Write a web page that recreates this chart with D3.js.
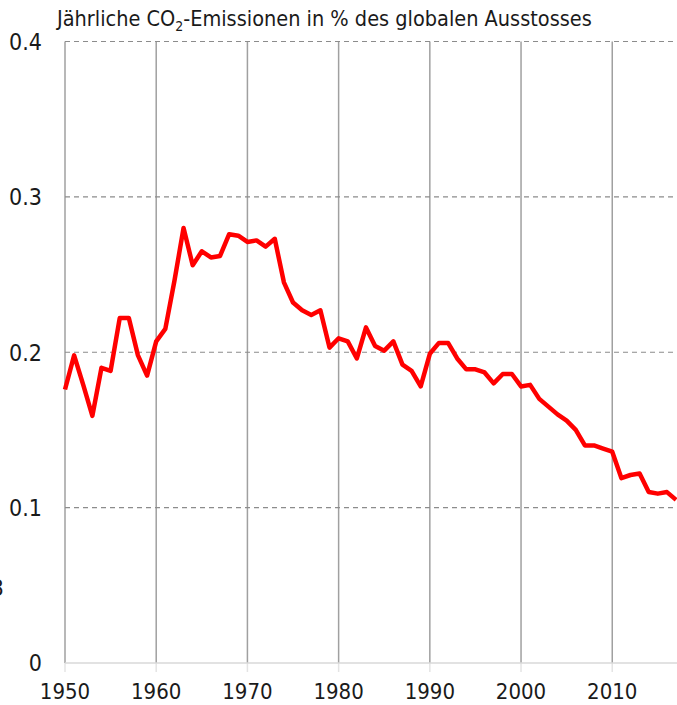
<!DOCTYPE html>
<html>
<head>
<meta charset="utf-8">
<script src="https://cdn.jsdelivr.net/npm/d3@7"></script>
<style>
  body { margin: 0; background: #fff; }
  svg text { font-family: "Liberation Sans Narrow", "DejaVu Sans Condensed", "Roboto", sans-serif; fill: #1a1a1a; }
</style>
</head>
<body>
<div id="chart"></div>
<script>
// Data
const years = [1950, 1951, 1952, 1953, 1954, 1955, 1956, 1957, 1958, 1959,
  1960, 1961, 1962, 1963, 1964, 1965, 1966, 1967, 1968, 1969,
  1970, 1971, 1972, 1973, 1974, 1975, 1976, 1977, 1978, 1979,
  1980, 1981, 1982, 1983, 1984, 1985, 1986, 1987, 1988, 1989,
  1990, 1991, 1992, 1993, 1994, 1995, 1996, 1997, 1998, 1999,
  2000, 2001, 2002, 2003, 2004, 2005, 2006, 2007, 2008, 2009,
  2010, 2011, 2012, 2013, 2014, 2015, 2016, 2017];
const shares = [0.176, 0.198, 0.179, 0.159, 0.190, 0.188, 0.222, 0.222, 0.198, 0.185,
  0.207, 0.215, 0.246, 0.280, 0.256, 0.265, 0.261, 0.262, 0.276, 0.275,
  0.271, 0.272, 0.268, 0.273, 0.245, 0.232, 0.227, 0.224, 0.227, 0.203,
  0.209, 0.207, 0.196, 0.216, 0.204, 0.201, 0.207, 0.192, 0.188, 0.178,
  0.199, 0.206, 0.206, 0.196, 0.189, 0.189, 0.187, 0.180, 0.186, 0.186,
  0.178, 0.179, 0.170, 0.165, 0.160, 0.156, 0.150, 0.140, 0.140, 0.138,
  0.136, 0.119, 0.121, 0.122, 0.110, 0.109, 0.110, 0.105];
const xTicks = [1950, 1960, 1970, 1980, 1990, 2000, 2010];
const yTicks = [0, 0.1, 0.2, 0.3, 0.4];

const width = 677, height = 705;
const margin = { top: 41.5, right: 0, bottom: 42, left: 65 };

const svg = d3.select("#chart").append("svg")
  .attr("width", width)
  .attr("height", height);

const x = d3.scaleLinear().domain([1950, 2017.1]).range([margin.left, width - margin.right]);
const y = d3.scaleLinear().domain([0, 0.4]).range([height - margin.bottom, margin.top]);

// Vertical decade lines (with a short tick below the baseline)
svg.selectAll(".vline")
  .data(xTicks)
  .enter().append("line")
  .attr("x1", d => x(d)).attr("x2", d => x(d))
  .attr("y1", y(0.4)).attr("y2", y(0))
  .attr("stroke", "#a0a0a0")
  .attr("stroke-width", 1.5);

svg.selectAll(".vtick")
  .data(xTicks)
  .enter().append("line")
  .attr("x1", d => x(d)).attr("x2", d => x(d))
  .attr("y1", y(0)).attr("y2", y(0) + 9)
  .attr("stroke", "#e4e4e4")
  .attr("stroke-width", 1.5);

// Horizontal dashed grid
svg.selectAll(".hline")
  .data(yTicks.filter(d => d > 0))
  .enter().append("line")
  .attr("x1", x(1950)).attr("x2", width)
  .attr("y1", d => y(d)).attr("y2", d => y(d))
  .attr("stroke", "#8c8c8c")
  .attr("stroke-width", 1.2)
  .attr("stroke-dasharray", "5,4");

// Zero line
svg.append("line")
  .attr("x1", x(1950)).attr("x2", width)
  .attr("y1", y(0)).attr("y2", y(0))
  .attr("stroke", "#d8d8d8")
  .attr("stroke-width", 1.5);

// Y labels
svg.selectAll(".ylab")
  .data(yTicks)
  .enter().append("text")
  .attr("x", 42)
  .attr("y", d => y(d))
  .attr("dy", "0.36em")
  .attr("text-anchor", "end")
  .style("font-size", "23px")
  .text(d => d === 0 ? "0" : d3.format(".1f")(d));

// X labels
svg.selectAll(".xlab")
  .data(xTicks)
  .enter().append("text")
  .attr("x", d => x(d))
  .attr("y", 699)
  .attr("text-anchor", "middle")
  .style("font-size", "22px")
  .text(d => d);

// The line
const line = d3.line()
  .x((d, i) => x(years[i]))
  .y(d => y(d));

svg.append("path")
  .datum(shares)
  .attr("d", line)
  .attr("fill", "none")
  .attr("stroke", "#ff0000")
  .attr("stroke-width", 4.5)
  .attr("stroke-linejoin", "round");

// Title
const title = svg.append("text")
  .attr("x", 57)
  .attr("y", 26)
  .style("font-size", "21.5px");
title.append("tspan").text("Jährliche CO");
title.append("tspan").attr("dy", 5).style("font-size", "14px").text("2");
title.append("tspan").attr("dy", -5).text("-Emissionen in % des globalen Ausstosses");

// clipped fragment at the left edge
svg.append("text")
  .attr("x", 4)
  .attr("y", 596)
  .attr("text-anchor", "end")
  .style("font-size", "23px")
  .text("3");
</script>
</body>
</html>
